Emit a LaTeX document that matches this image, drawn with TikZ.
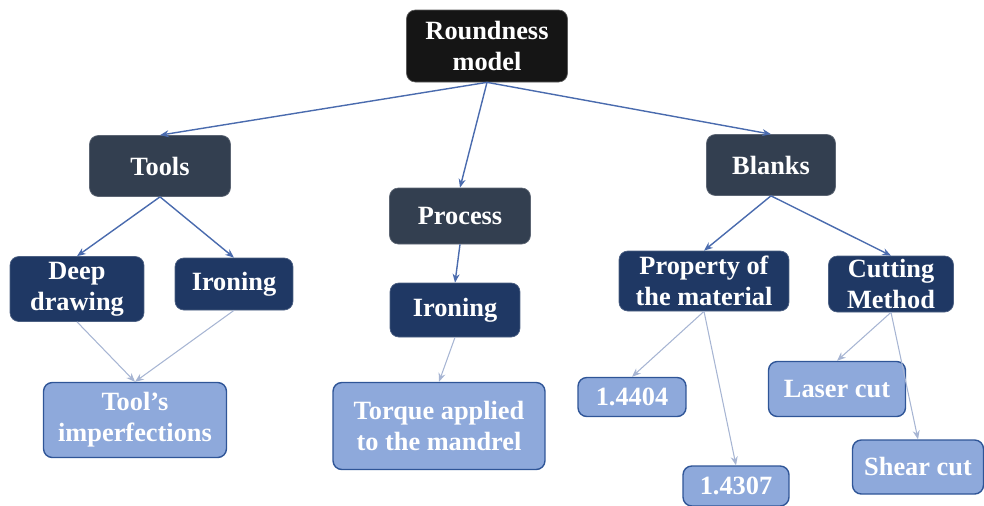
\documentclass[tikz,border=0pt]{standalone}
\usepackage{fontspec}
\setmainfont{Liberation Serif}
\usetikzlibrary{arrows.meta}

\definecolor{rootcol}{HTML}{151515}
\definecolor{slate}{HTML}{333F50}
\definecolor{navy}{HTML}{1F3864}
\definecolor{leafcol}{HTML}{8EA9DB}
\definecolor{leafline}{HTML}{2F5597}
\definecolor{darkedge}{HTML}{4A6BAE}
\definecolor{lightedge}{HTML}{A7B5D3}

\begin{document}
\begin{tikzpicture}[x=0.02cm, y=-0.02cm,
    box/.style={rounded corners=5pt, text=white, align=center,
                font=\fontsize{15}{17.5}\selectfont\bfseries, inner sep=0pt},
    rootbox/.style={box, fill=rootcol, draw=rootcol!70},
    mainbox/.style={box, fill=slate, draw=slate!80},
    subbox/.style={box, fill=navy, draw=navy!80},
    leafbox/.style={box, fill=leafcol, draw=leafline, line width=0.8pt},
    darkarrow/.style={-{Stealth[length=5pt,width=4pt]}, draw=darkedge, line width=0.8pt},
    lightarrow/.style={-{Stealth[length=5pt,width=4pt]}, draw=lightedge, line width=0.6pt}]
    \useasboundingbox (0,0) rectangle (984,505);
    % Top
    \node[rootbox, minimum width=3.22cm, minimum height=1.44cm] (root) at (487,46) {Roundness\\model};
    % Main groups
    \node[mainbox, minimum width=2.82cm, minimum height=1.22cm] (tools) at (160,166) {Tools};
    \node[mainbox, minimum width=2.82cm, minimum height=1.12cm] (process) at (460,216) {Process};
    \node[mainbox, minimum width=2.58cm, minimum height=1.22cm] (blanks) at (771,165) {Blanks};
    % Second level
    \node[subbox, minimum width=2.68cm, minimum height=1.30cm] (deep) at (77,289) {Deep\\drawing};
    \node[subbox, minimum width=2.36cm, minimum height=1.04cm] (ironL) at (234,284) {Ironing};
    \node[subbox, minimum width=2.60cm, minimum height=1.08cm] (ironM) at (455,310) {Ironing};
    \node[subbox, minimum width=3.40cm, minimum height=1.20cm] (prop) at (704,281) {Property of\\the material};
    \node[subbox, minimum width=2.50cm, minimum height=1.12cm] (cut) at (891,284) {Cutting\\Method};
    % Leaves
    \node[leafbox, minimum width=3.66cm, minimum height=1.50cm] (imperf) at (135,420) {Tool's\\imperfections};
    \node[leafbox, minimum width=4.24cm, minimum height=1.74cm] (torque) at (439,426) {Torque applied\\to the mandrel};
    \node[leafbox, minimum width=2.16cm, minimum height=0.78cm] (mA) at (632,397) {1.4404};
    \node[leafbox, minimum width=2.12cm, minimum height=0.80cm] (mB) at (736,486) {1.4307};
    \node[leafbox, minimum width=2.74cm, minimum height=1.10cm] (laser) at (837,389) {Laser cut};
    \node[leafbox, minimum width=2.62cm, minimum height=1.08cm] (shear) at (918,467) {Shear cut};

    % Dark connectors
    \draw[darkarrow] (root.south) -- (tools.north);
    \draw[darkarrow] (root.south) -- (process.north);
    \draw[darkarrow] (root.south) -- (blanks.north);
    \draw[darkarrow] (tools.south) -- (deep.north);
    \draw[darkarrow] (tools.south) -- (ironL.north);
    \draw[darkarrow] (process.south) -- (ironM.north);
    \draw[darkarrow] (blanks.south) -- (prop.north);
    \draw[darkarrow] (blanks.south) -- (cut.north);
    % Light connectors
    \draw[lightarrow] (deep.south) -- (imperf.north);
    \draw[lightarrow] (ironL.south) -- (imperf.north);
    \draw[lightarrow] (ironM.south) -- (torque.north);
    \draw[lightarrow] (prop.south) -- (mA.north);
    \draw[lightarrow] (prop.south) -- (mB.north);
    \draw[lightarrow] (cut.south) -- (laser.north);
    \draw[lightarrow] (cut.south) -- (shear.north);
\end{tikzpicture}
\end{document}
